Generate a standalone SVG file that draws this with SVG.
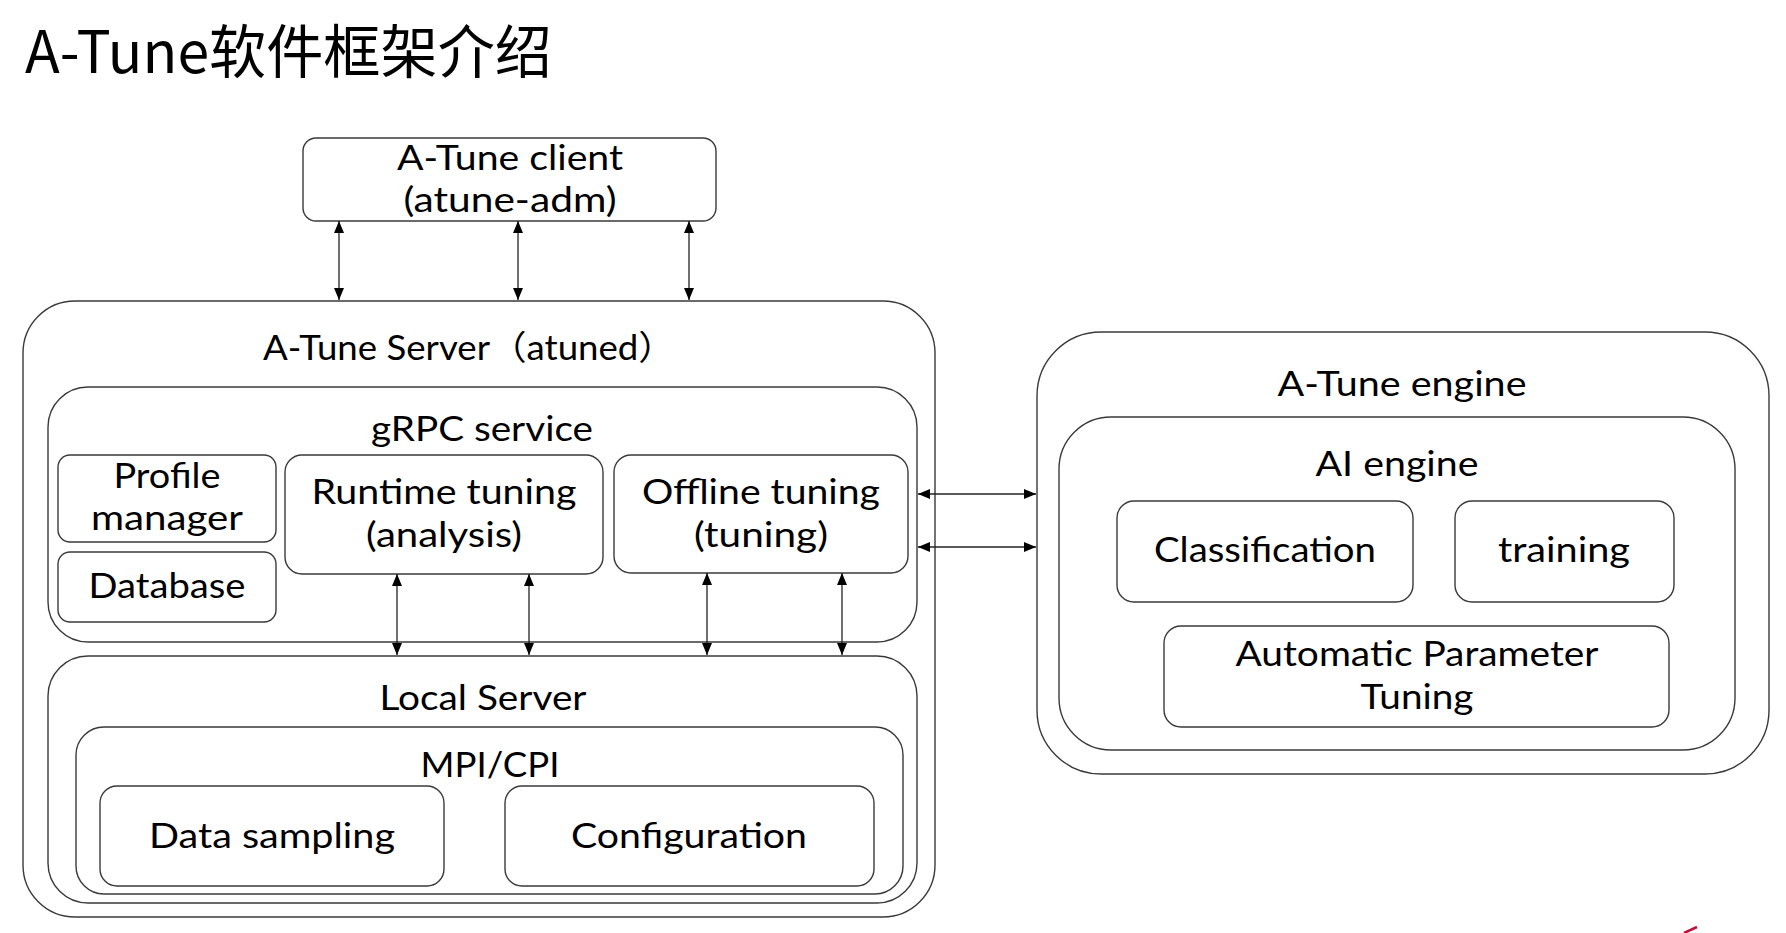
<svg xmlns="http://www.w3.org/2000/svg" width="1786" height="933" viewBox="0 0 1786 933">
<defs>
<style>
.b{fill:#fff;stroke:#3a3a3a;stroke-width:1.4}
.t{font-family:Lato,"Noto Sans CJK SC",sans-serif;font-size:34px;fill:#000;text-anchor:middle}
.c{stroke:#222;stroke-width:1.3;fill:none;marker-start:url(#ah);marker-end:url(#ah)}
</style>
<marker id="ah" viewBox="0 0 12 10" refX="12" refY="5" markerWidth="12" markerHeight="10" markerUnits="userSpaceOnUse" orient="auto-start-reverse">
<path d="M0,0 L12,5 L0,10 Z" fill="#000"/>
</marker>
</defs>
<rect width="1786" height="933" fill="#fff"/>
<text x="25" y="73" font-family="'Noto Sans CJK SC','Noto Sans',sans-serif" font-size="58" fill="#000" textLength="527" lengthAdjust="spacingAndGlyphs">A-Tune软件框架介绍</text>

<g id="client">
<rect class="b" x="303" y="138" width="413" height="83" rx="13"/>
<text class="t" x="510" y="170" textLength="226" lengthAdjust="spacingAndGlyphs">A-Tune client</text>
<text class="t" x="510" y="212" textLength="213" lengthAdjust="spacingAndGlyphs">(atune-adm)</text>
</g>

<g id="server">
<rect class="b" x="23" y="301" width="912" height="616" rx="52"/>
<text class="t" x="469" y="360" textLength="412" lengthAdjust="spacingAndGlyphs">A-Tune Server（atuned）</text>
</g>

<g id="grpc">
<rect class="b" x="48" y="387" width="869" height="255" rx="40"/>
<text class="t" x="482" y="441" textLength="222" lengthAdjust="spacingAndGlyphs">gRPC service</text>
</g>

<g id="profile">
<rect class="b" x="58" y="455" width="218" height="87" rx="12"/>
<text class="t" x="167" y="488" textLength="107" lengthAdjust="spacingAndGlyphs">Profile</text>
<text class="t" x="167" y="530" textLength="152" lengthAdjust="spacingAndGlyphs">manager</text>
</g>

<g id="database">
<rect class="b" x="58" y="552" width="218" height="70" rx="12"/>
<text class="t" x="167" y="598" textLength="157" lengthAdjust="spacingAndGlyphs">Database</text>
</g>

<g id="runtime">
<rect class="b" x="285" y="455" width="318" height="119" rx="17"/>
<text class="t" x="444" y="504" textLength="265" lengthAdjust="spacingAndGlyphs">Runtime tuning</text>
<text class="t" x="444" y="547" textLength="156" lengthAdjust="spacingAndGlyphs">(analysis)</text>
</g>

<g id="offline">
<rect class="b" x="614" y="455" width="294" height="118" rx="17"/>
<text class="t" x="761" y="504" textLength="238" lengthAdjust="spacingAndGlyphs">Offline tuning</text>
<text class="t" x="761" y="547" textLength="134" lengthAdjust="spacingAndGlyphs">(tuning)</text>
</g>

<g id="local">
<rect class="b" x="48" y="656" width="869" height="247" rx="40"/>
<text class="t" x="483" y="710" textLength="207" lengthAdjust="spacingAndGlyphs">Local Server</text>
</g>

<g id="mpi">
<rect class="b" x="76" y="727" width="827" height="167" rx="28"/>
<text class="t" x="490" y="777" textLength="139" lengthAdjust="spacingAndGlyphs">MPI/CPI</text>
</g>

<g id="sampling">
<rect class="b" x="100" y="786" width="344" height="100" rx="17"/>
<text class="t" x="272" y="848" textLength="246" lengthAdjust="spacingAndGlyphs">Data sampling</text>
</g>

<g id="configuration">
<rect class="b" x="505" y="786" width="369" height="100" rx="17"/>
<text class="t" x="689" y="848" textLength="236" lengthAdjust="spacingAndGlyphs">Configuration</text>
</g>

<g id="engine">
<rect class="b" x="1037" y="332" width="732" height="442" rx="64"/>
<text class="t" x="1402" y="396" textLength="249" lengthAdjust="spacingAndGlyphs">A-Tune engine</text>
</g>

<g id="ai">
<rect class="b" x="1059" y="417" width="676" height="333" rx="52"/>
<text class="t" x="1397" y="476" textLength="163" lengthAdjust="spacingAndGlyphs">AI engine</text>
</g>

<g id="classification">
<rect class="b" x="1117" y="501" width="296" height="101" rx="17"/>
<text class="t" x="1265" y="562" textLength="222" lengthAdjust="spacingAndGlyphs">Classification</text>
</g>

<g id="training">
<rect class="b" x="1455" y="501" width="219" height="101" rx="17"/>
<text class="t" x="1564" y="562" textLength="132" lengthAdjust="spacingAndGlyphs">training</text>
</g>

<g id="apt">
<rect class="b" x="1164" y="626" width="505" height="101" rx="17"/>
<text class="t" x="1417" y="666" textLength="363" lengthAdjust="spacingAndGlyphs">Automatic Parameter</text>
<text class="t" x="1417" y="709" textLength="113" lengthAdjust="spacingAndGlyphs">Tuning</text>
</g>

<g id="connectors">
<line class="c" x1="339" y1="221" x2="339" y2="300"/>
<line class="c" x1="518" y1="221" x2="518" y2="300"/>
<line class="c" x1="689" y1="221" x2="689" y2="300"/>
<line class="c" x1="397" y1="574" x2="397" y2="655"/>
<line class="c" x1="529" y1="574" x2="529" y2="655"/>
<line class="c" x1="707" y1="573" x2="707" y2="655"/>
<line class="c" x1="842" y1="573" x2="842" y2="655"/>
<line class="c" x1="918" y1="494" x2="1036" y2="494"/>
<line class="c" x1="918" y1="547" x2="1036" y2="547"/>
</g>
<path d="M1684,933 L1697,927" stroke="#c0103a" stroke-width="2.5" fill="none"/>
</svg>
